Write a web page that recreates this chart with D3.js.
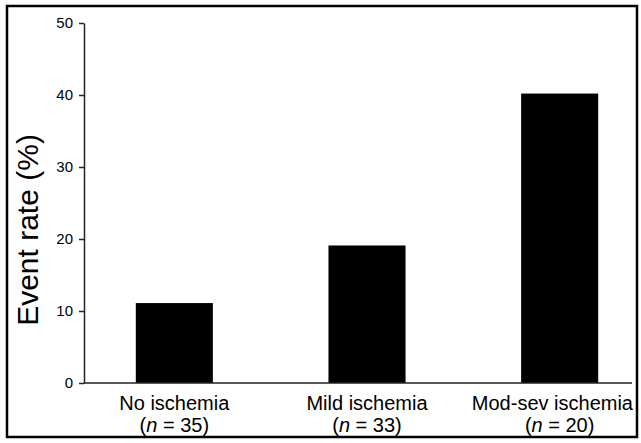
<!DOCTYPE html>
<html>
<head>
<meta charset="utf-8">
<script src="https://cdn.jsdelivr.net/npm/d3@7"></script>
<style>
  body { margin: 0; background: #fff; }
  svg { display: block; font-family: "Liberation Sans", Arial, sans-serif; }
</style>
</head>
<body>
<div id="chart"></div>
<script>
const groups = ["No ischemia", "Mild ischemia", "Mod-sev ischemia"];
const counts = [35, 33, 20];
const eventRates = [11.1, 19.1, 40.2];
const yTicks = [0, 10, 20, 30, 40, 50];

const W = 641, H = 443;
const svg = d3.select("#chart").append("svg").attr("width", W).attr("height", H);

// frame round the whole figure
svg.append("rect")
  .attr("x", 7).attr("y", 6).attr("width", 630).attr("height", 431)
  .attr("fill", "none").attr("stroke", "#000").attr("stroke-width", 2.5);

const x = d3.scaleBand()
  .domain(groups)
  .range([78, 656])
  .paddingInner(0.6)
  .paddingOuter(0.3);

const y = d3.scaleLinear()
  .domain([0, 50])
  .range([383, 23]);

const axisX0 = 84, axisX1 = 632;

// bars
svg.append("g")
  .selectAll("rect")
  .data(groups)
  .join("rect")
  .attr("x", d => x(d))
  .attr("width", x.bandwidth())
  .attr("y", (d, i) => y(eventRates[i]))
  .attr("height", (d, i) => y(0) - y(eventRates[i]))
  .attr("fill", "#000");

// y axis
const gy = svg.append("g")
  .attr("transform", `translate(${axisX0},0)`)
  .attr("font-size", 15)
  .attr("font-family", "'Liberation Sans', Arial, sans-serif")
  .call(d3.axisLeft(y).tickValues(yTicks).tickSize(5).tickPadding(6).tickSizeOuter(0));
gy.select(".domain").attr("stroke", "#222").attr("stroke-width", 1.5);
gy.selectAll(".tick line").attr("stroke", "#222").attr("stroke-width", 1.5);
gy.selectAll(".tick text")
  .style("font-size", "15px")
  .attr("fill", "#000");

// x axis baseline
svg.append("line")
  .attr("x1", axisX0).attr("x2", axisX1)
  .attr("y1", y(0)).attr("y2", y(0))
  .attr("stroke", "#222").attr("stroke-width", 1.5);

// category labels
const labels = svg.append("g")
  .selectAll("g")
  .data(groups)
  .join("g");

labels.append("text")
  .attr("y", 410)
  .attr("text-anchor", "middle")
  .attr("font-size", 20)
  .attr("fill", "#000")
  .text(d => d)
  .attr("x", function(d) {
    const c = x(d) + x.bandwidth() / 2;
    const w = this.getComputedTextLength();
    return Math.min(c, axisX1 + 1 - w / 2);
  });

const nLine = labels.append("text")
  .attr("x", d => x(d) + x.bandwidth() / 2)
  .attr("y", 432)
  .attr("text-anchor", "middle")
  .attr("font-size", 20)
  .attr("fill", "#000");
nLine.append("tspan").text("(");
nLine.append("tspan").attr("font-style", "italic").text("n");
nLine.append("tspan").text((d, i) => " = " + counts[i] + ")");

// y axis title
svg.append("text")
  .attr("transform", "translate(38,230) rotate(-90)")
  .attr("text-anchor", "middle")
  .attr("font-size", 30)
  .attr("fill", "#000")
  .text("Event rate (%)");
</script>
</body>
</html>
